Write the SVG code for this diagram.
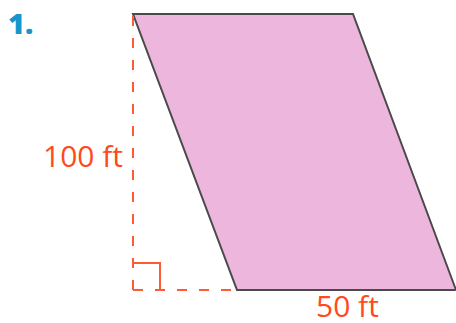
<svg xmlns="http://www.w3.org/2000/svg" width="456" height="323" viewBox="0 0 456 323">
<style>
.dash{fill:none;stroke:#ff5a36;stroke-width:2;stroke-dasharray:10 12}
.lbl{font-family:"Open Sans","Noto Sans",sans-serif;font-size:30px;font-weight:500;fill:#ff4a1c}
</style>
<rect width="456" height="323" fill="#ffffff"/>
<text x="8" y="34" font-family="Open Sans, sans-serif" font-weight="800" font-size="29" fill="#1596cc">1.</text>
<g id="parallelogram">
<polygon points="133,14 353,14 456,290 237,290" fill="#edb6dc" stroke="#4a4a4a" stroke-width="2"/>
</g>
<g id="connectors">
<line class="dash" x1="133" y1="16" x2="133" y2="290"/>
<line class="dash" x1="133" y1="290" x2="237" y2="290"/>
<polyline points="133,263 160,263 160,290" fill="none" stroke="#ff5a36" stroke-width="2"/>
</g>
<text class="lbl" x="43" y="167">100 ft</text>
<text class="lbl" x="316" y="317">50 ft</text>
</svg>
